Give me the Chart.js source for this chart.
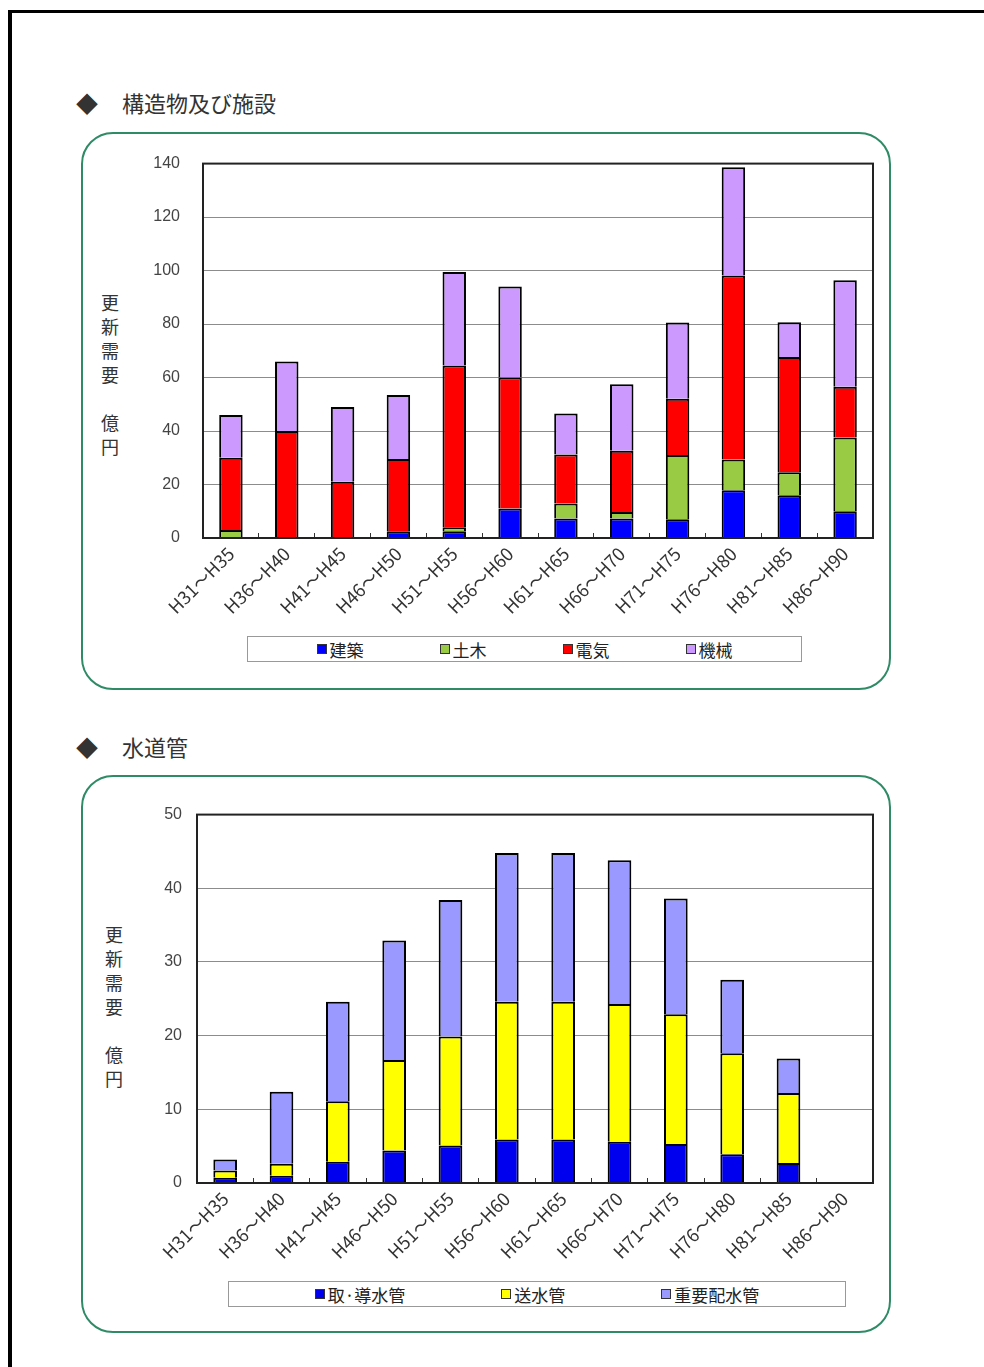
<!DOCTYPE html>
<html lang="ja">
<head>
<meta charset="utf-8">
<script src="https://cdn.jsdelivr.net/npm/chart.js@4/dist/chart.umd.min.js"></script>
<style>
  body { margin: 0; background: #fff; font-family: "Noto Sans CJK JP", sans-serif; color: #222; }
  #page { position: relative; width: 984px; height: 1367px; overflow: hidden; }
  .frame { position: absolute; left: 8px; top: 10px; width: 1000px; height: 1400px; border: 4px solid #000; border-top-width: 3px; }
  .box { position: absolute; left: 81px; width: 806px; height: 554px; border: 2.5px solid #2e8b66; border-radius: 32px; }
  .head { position: absolute; left: 76px; font-size: 22px; color: #333; white-space: nowrap; }
  .head span { display: inline-block; width: 46px; }
  .ytitle { position: absolute; writing-mode: vertical-rl; font-size: 18px; letter-spacing: 6px; color: #333; }
  canvas { position: absolute; left: 120px; }
  .legend { position: absolute; height: 24px; border: 1px solid #999; display: flex; justify-content: center; align-items: center; font-size: 17px; color: #222; }
  .legend i { display: inline-block; width: 8px; height: 8px; border: 1px solid #333; margin-right: 3px; }
  .legend div { display: flex; align-items: center; }
</style>
</head>
<body>
<div id="page">
  <div class="frame"></div>

  <div class="head" style="top:86px"><span>◆</span>構造物及び施設</div>
  <div class="box" style="top:132px"></div>
  <div class="ytitle" style="left:97px; top:294px">更新需要　億円</div>
  <canvas id="chart1" width="780" height="499" style="top:131px"></canvas>
  <div class="legend" id="legend1" style="left:247px; top:636px; width:553px; gap:76px"></div>

  <div class="head" style="top:730px"><span>◆</span>水道管</div>
  <div class="box" style="top:775px"></div>
  <div class="ytitle" style="left:101px; top:926px">更新需要　億円</div>
  <canvas id="chart2" width="780" height="485" style="top:790px"></canvas>
  <div class="legend" id="legend2" style="left:228px; top:1281px; width:616px; gap:96px"></div>
</div>

<script>
const periods = ["H31～H35", "H36～H40", "H41～H45", "H46～H50", "H51～H55", "H56～H60",
                 "H61～H65", "H66～H70", "H71～H75", "H76～H80", "H81～H85", "H86～H90"];

// 構造物及び施設 (億円)
const kenchiku = [0, 0, 0, 2.5, 2.5, 11, 7.3, 7.3, 7, 17.9, 16, 10];
const doboku   = [3, 0, 0, 0, 1.5, 0, 5.6, 2.4, 24, 11.5, 8.6, 27.6];
const denki    = [27, 40, 21, 27, 60.5, 49, 18.3, 22.9, 21.1, 68.8, 43.1, 19];
const kikai    = [16, 26, 28, 24, 35, 34, 15.4, 24.9, 28.5, 40.4, 13, 39.8];

// 水道管 (億円)
const dounsui = [0.7, 1.0, 2.9, 4.4, 5.1, 5.9, 5.9, 5.6, 5.3, 3.9, 2.7, 0];
const sousui  = [1.0, 1.6, 8.2, 12.3, 14.8, 18.7, 18.7, 18.7, 17.6, 13.7, 9.5, 0];
const haisui  = [1.5, 9.8, 13.5, 16.2, 18.5, 20.2, 20.2, 19.5, 15.7, 10.0, 4.7, 0];

const yTicks1 = { max: 140, step: 20 };
const yTicks2 = { max: 50, step: 10 };

// frame around the plot area
const plotFrame = {
  id: "plotFrame",
  afterDatasetsDraw(chart) {
    const { ctx, chartArea: a } = chart;
    ctx.save();
    ctx.strokeStyle = "#222";
    ctx.lineWidth = 2;
    ctx.strokeRect(a.left, a.top, a.right - a.left, a.bottom - a.top);
    ctx.restore();
  }
};

function makeDataset(label, data, color) {
  return {
    label,
    data,
    backgroundColor: color,
    borderColor: "#000",
    borderWidth: 2,
    barPercentage: 0.42,
    categoryPercentage: 1
  };
}

function buildChart(id, datasets, yt, axisWidth, tickPad) {
  return new Chart(document.getElementById(id), {
    type: "bar",
    data: { labels: periods, datasets },
    options: {
      responsive: false,
      animation: false,
      layout: { padding: { top: 0, right: 27, left: 0, bottom: 0 } },
      plugins: { legend: { display: false }, tooltip: { enabled: false } },
      scales: {
        x: {
          stacked: true,
          border: { display: false },
          grid: { offset: true, drawOnChartArea: false, drawTicks: true, tickLength: -5, tickColor: "#333" },
          ticks: {
            autoSkip: false, maxRotation: 45, minRotation: 45, padding: 10,
            color: "#333", font: { family: "Noto Sans CJK JP", size: 18 }
          },
          afterFit: (s) => { s.height = 92; }
        },
        y: {
          stacked: true,
          min: 0,
          max: yt.max,
          border: { display: false },
          grid: { color: "#8c8c8c", drawTicks: false },
          ticks: {
            stepSize: yt.step, padding: tickPad,
            color: "#444", font: { family: "Liberation Sans", size: 16 }
          },
          afterFit: (s) => { s.width = axisWidth; }
        }
      }
    },
    plugins: [plotFrame]
  });
}

function buildLegend(id, datasets) {
  const el = document.getElementById(id);
  datasets.forEach((d) => {
    const item = document.createElement("div");
    const sw = document.createElement("i");
    sw.style.background = d.backgroundColor;
    item.appendChild(sw);
    item.appendChild(document.createTextNode(d.label));
    el.appendChild(item);
  });
}

const ds1 = [
  makeDataset("建築", kenchiku, "#0000ff"),
  makeDataset("土木", doboku, "#99cc44"),
  makeDataset("電気", denki, "#ff0000"),
  makeDataset("機械", kikai, "#cc99ff")
];
const ds2 = [
  makeDataset("取·導水管", dounsui, "#0000ee"),
  makeDataset("送水管", sousui, "#ffff00"),
  makeDataset("重要配水管", haisui, "#9999ff")
];

buildChart("chart1", ds1, yTicks1, 83, 23);
buildChart("chart2", ds2, yTicks2, 77, 15);
buildLegend("legend1", ds1);
buildLegend("legend2", ds2);
</script>
</body>
</html>
